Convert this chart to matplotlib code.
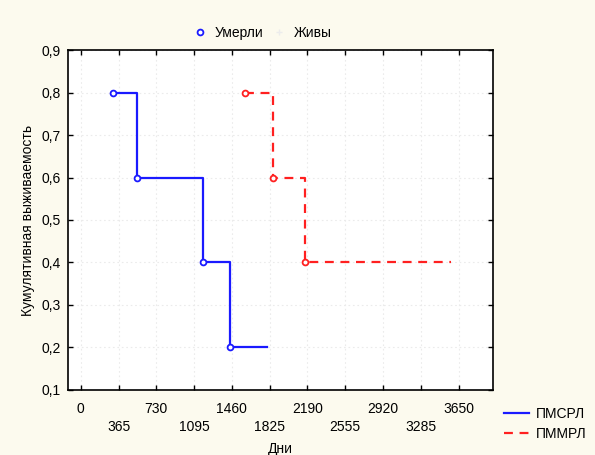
import matplotlib
matplotlib.use("Agg")
import matplotlib.pyplot as plt
from matplotlib.lines import Line2D

# Kaplan-Meier style step data (days, cumulative survival)
pmsrl_days = [307, 547, 1179, 1441, 1799]
pmsrl_surv = [0.8, 0.6, 0.4, 0.2, 0.2]
pmmrl_days = [1589, 1854, 2171, 3576]
pmmrl_surv = [0.8, 0.6, 0.4, 0.4]

x_ticks = [0, 365, 730, 1095, 1460, 1825, 2190, 2555, 2920, 3285, 3650]
y_ticks = [0.1, 0.2, 0.3, 0.4, 0.5, 0.6, 0.7, 0.8, 0.9]

BG = "#fcfaee"
BLUE = "#1a1aff"
RED = "#ff2020"
FS = 10

plt.rcParams["font.family"] = ["Liberation Sans", "DejaVu Sans"]

fig = plt.figure(figsize=(5.95, 4.55), dpi=100, facecolor=BG)
ax = fig.add_axes([0.114, 0.143, 0.714, 0.747])
ax.set_facecolor("white")

# step lines (event markers at the start of each new level, last point censored)
ax.step(pmsrl_days, pmsrl_surv, where="post", color=BLUE, lw=1.6)
ax.plot(pmsrl_days[:-1], pmsrl_surv[:-1], "o", ls="none", ms=4.2, mew=1.3,
        mfc="white", mec=BLUE)
ax.step(pmmrl_days, pmmrl_surv, where="post", color=RED, lw=1.6,
        dashes=(4, 3))
ax.plot(pmmrl_days[:-1], pmmrl_surv[:-1], "o", ls="none", ms=4.2, mew=1.3,
        mfc="white", mec=RED)

ax.set_xlim(-125, 3980)
ax.set_ylim(0.1, 0.9)
ax.set_xticks(x_ticks)
ax.set_xticklabels([str(v) if i % 2 == 0 else "\n" + str(v)
                    for i, v in enumerate(x_ticks)], linespacing=1.35)
ax.set_yticks(y_ticks)
ax.set_yticklabels([f"{v:.1f}".replace(".", ",") for v in y_ticks])
ax.tick_params(direction="in", length=3.5, width=1, labelsize=FS,
               top=True, right=True, pad=5)
ax.tick_params(axis="x", pad=8.5)
ax.grid(True, color="#ebebeb", ls=(0, (1.5, 2.5)), lw=0.8)
for sp in ax.spines.values():
    sp.set_linewidth(1.2)

ax.set_xlabel("Дни", fontsize=FS, labelpad=6)
ax.set_ylabel("Кумулятивная выживаемость", fontsize=FS, labelpad=5)

# top legend: died / alive markers
top_handles = [
    Line2D([], [], ls="none", marker="o", ms=4.2, mew=1.3, mfc="white", mec=BLUE),
    Line2D([], [], ls="none", marker="+", ms=5, mew=1, color="#ececec"),
]
fig.legend(top_handles, ["Умерли", "Живы"], loc="center", ncol=2,
           bbox_to_anchor=(0.44, 0.927), frameon=False, fontsize=FS,
           handletextpad=0.5, columnspacing=0.5, handlelength=1.2)

# series legend bottom right
ser_handles = [
    Line2D([], [], color=BLUE, lw=1.6),
    Line2D([], [], color=RED, lw=1.6, dashes=(4, 3)),
]
fig.legend(ser_handles, ["ПМСРЛ", "ПММРЛ"], loc="upper left",
           bbox_to_anchor=(0.838, 0.118), frameon=False, fontsize=FS,
           handlelength=1.8, handletextpad=0.45, labelspacing=0.45,
           borderaxespad=0)

fig.savefig("out.png", dpi=100, facecolor=BG)
